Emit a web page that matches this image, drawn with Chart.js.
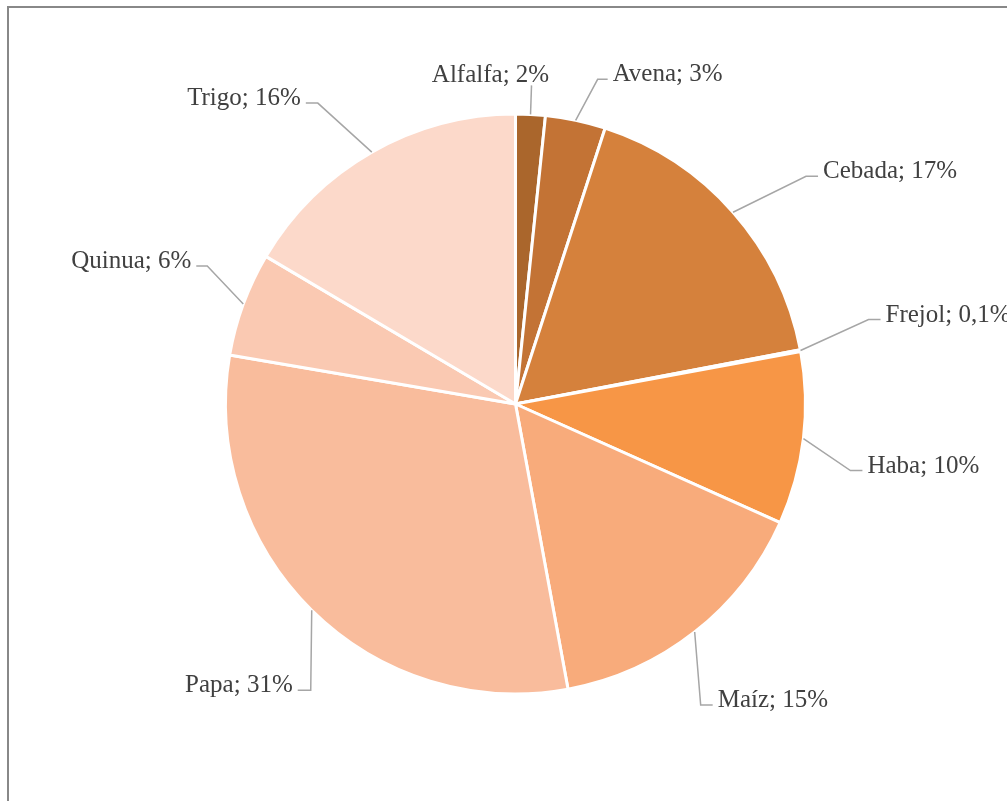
<!DOCTYPE html>
<html>
<head>
<meta charset="utf-8">
<script src="https://cdn.jsdelivr.net/npm/chart.js@4"></script>
<style>
  html, body { margin: 0; padding: 0; background: #fff; overflow: hidden; }
  #wrap { position: relative; width: 1007px; height: 801px; }
  #frame { position: absolute; left: 7px; top: 6px; width: 1020px; height: 820px; border: 2px solid #888888; box-sizing: border-box; }
  canvas { position: absolute; left: 0; top: 0; }
</style>
</head>
<body>
<div id="wrap">
  <div id="frame"></div>
  <canvas id="c" width="1007" height="801"></canvas>
</div>
<script>
// ---- data ----
const categories = ["Alfalfa", "Avena", "Cebada", "Frejol", "Haba", "Maíz", "Papa", "Quinua", "Trigo"];
const shares = [1.65, 3.35, 17, 0.1, 9.6, 15.4, 30.6, 5.8, 16.5];
const percentLabels = ["2%", "3%", "17%", "0,1%", "10%", "15%", "31%", "6%", "16%"];

// ---- style / layout ----
const colors = ["#AA662C", "#C37335", "#D5813C", "#E98B41", "#F79646", "#F8AB7B", "#F9BC9C", "#FAC9B2", "#FCD9CA"];
// leader elbow offset from arc mid-point, side of text (-1 left, 1 right, 0 above), horizontal tail length
const labelLayout = [
  { dx: 1, dy: -29, side: 0, tail: 0 },
  { dx: 22, dy: -41, side: 1, tail: 10 },
  { dx: 73, dy: -36, side: 1, tail: 12 },
  { dx: 68, dy: -31, side: 1, tail: 12 },
  { dx: 47, dy: 32, side: 1, tail: 12 },
  { dx: 6, dy: 73, side: 1, tail: 12 },
  { dx: -1, dy: 80, side: -1, tail: 13 },
  { dx: -36, dy: -38, side: -1, tail: 11 },
  { dx: -54, dy: -49, side: -1, tail: 12 }
];

const leaderLabels = {
  id: 'leaderLabels',
  afterDatasetsDraw(chart) {
    const ctx = chart.ctx;
    const meta = chart.getDatasetMeta(0);
    ctx.save();
    ctx.font = '25px "Liberation Serif", serif';
    ctx.fillStyle = '#404040';
    ctx.strokeStyle = '#A6A6A6';
    ctx.lineWidth = 1.5;
    meta.data.forEach((arc, i) => {
      const p = arc.getProps(['x', 'y', 'startAngle', 'endAngle', 'outerRadius'], true);
      const mid = (p.startAngle + p.endAngle) / 2;
      const ax = p.x + Math.cos(mid) * p.outerRadius;
      const ay = p.y + Math.sin(mid) * p.outerRadius;
      const L = labelLayout[i];
      const ex = ax + L.dx, ey = ay + L.dy;
      const tx = ex + L.side * L.tail;
      ctx.beginPath();
      ctx.moveTo(ax, ay);
      ctx.lineTo(ex, ey);
      if (L.side !== 0) ctx.lineTo(tx, ey);
      ctx.stroke();
      const text = categories[i] + '; ' + percentLabels[i];
      ctx.textBaseline = 'alphabetic';
      if (L.side === 0) {
        ctx.textAlign = 'center';
        ctx.fillText(text, ex - 41, ey - 3);
      } else if (L.side > 0) {
        ctx.textAlign = 'left';
        ctx.fillText(text, tx + 5, ey + 2);
      } else {
        ctx.textAlign = 'right';
        ctx.fillText(text, tx - 5, ey + 2);
      }
    });
    ctx.restore();
  }
};

new Chart(document.getElementById('c'), {
  type: 'pie',
  data: {
    labels: categories,
    datasets: [{
      data: shares,
      backgroundColor: colors,
      borderColor: '#FFFFFF',
      borderWidth: 3
    }]
  },
  options: {
    responsive: false,
    animation: false,
    radius: 290,
    layout: { padding: { left: 24, right: 0, top: 7, bottom: 0 } },
    plugins: {
      legend: { display: false },
      tooltip: { enabled: false }
    }
  },
  plugins: [leaderLabels]
});
</script>
</body>
</html>
